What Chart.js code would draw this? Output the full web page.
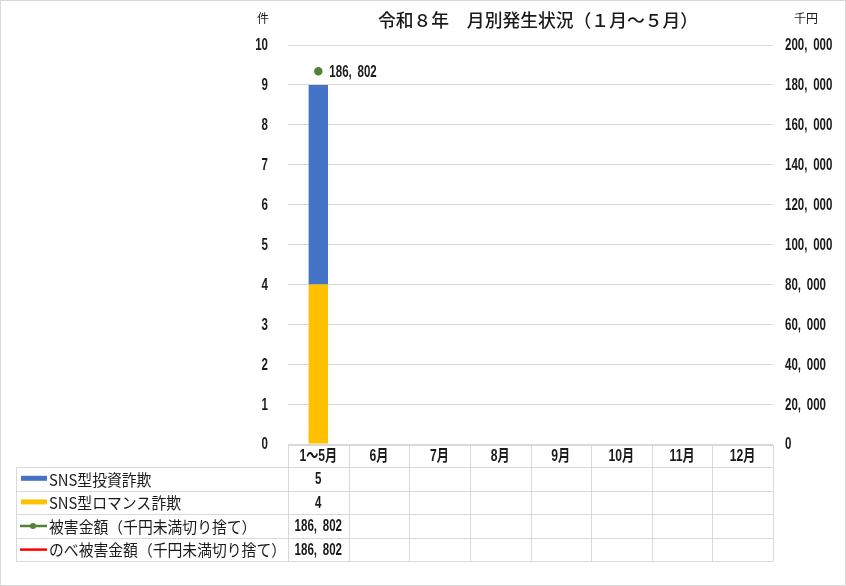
<!DOCTYPE html>
<html lang="ja">
<head>
<meta charset="utf-8">
<script src="https://cdn.jsdelivr.net/npm/chart.js@4.4.1/dist/chart.umd.min.js"></script>
<style>
    html, body { margin: 0; padding: 0; background: #fff; }
    #wrap { position: relative; width: 846px; height: 586px; }
</style>
</head>
<body>
<div id="wrap"><canvas id="monthlyChart" width="846" height="586"></canvas></div>
<script>
// 月別データ（1～5月のみ計上）
const months = ['1～5月', '6月', '7月', '8月', '9月', '10月', '11月', '12月'];
const investment = [5, null, null, null, null, null, null, null];
const romance = [4, null, null, null, null, null, null, null];
const damage = [186802, null, null, null, null, null, null, null];
const totalDamage = [186802, null, null, null, null, null, null, null];

const countMax = 10;
const amountMax = 200000;
const amountStep = 20000;

const NUM_FONT = "bold 16px 'Liberation Sans', 'Noto Sans CJK JP', sans-serif";
const JP_FONT = "'Noto Sans CJK JP', sans-serif";
const NARROW = 0.72;   // the original uses a condensed face
const COMMA_GAP = 8;   // its comma is also wide
const GRID = '#d9d9d9';
const TEXT = '#1a1a1a';

const fmt = v => (v === null || v === undefined) ? '' : v.toLocaleString('en-US');

// table rows: label, legend key type, colour, values
const tableRows = [
    { label: 'SNS型投資詐欺', key: 'bar', color: '#4472C4', values: investment },
    { label: 'SNS型ロマンス詐欺', key: 'bar', color: '#FFC000', values: romance },
    { label: '被害金額（千円未満切り捨て）', key: 'marker', color: '#548235', values: damage },
    { label: 'のべ被害金額（千円未満切り捨て）', key: 'line', color: '#FF0000', values: totalDamage }
];

// draw text squeezed horizontally, with extra room after each comma
const drawText = (ctx, text, x, y, align, font, sx, gap = 0) => {
    ctx.save();
    ctx.font = font;
    ctx.textAlign = 'left';
    ctx.textBaseline = 'middle';
    ctx.fillStyle = TEXT;
    ctx.translate(x, y);
    ctx.scale(sx, 1);
    const parts = text.split(',');
    const commaW = ctx.measureText(',').width + gap;
    const widths = parts.map(p => ctx.measureText(p).width);
    const total = widths.reduce((a, b) => a + b, 0) + commaW * (parts.length - 1);
    let cx = align === 'center' ? -total / 2 : align === 'right' ? -total : 0;
    parts.forEach((p, i) => {
        ctx.fillText(p, cx, 0);
        cx += widths[i];
        if (i < parts.length - 1) {
            ctx.fillText(',', cx, 0);
            cx += commaW;
        }
    });
    ctx.restore();
};

const tablePlugin = {
    id: 'tablePlugin',
    afterDraw(chart) {
        const { ctx, chartArea, scales } = chart;
        const colW = (chartArea.right - chartArea.left) / months.length;
        const tableLeft = 16;
        const top = chartArea.bottom + 1;
        const headerH = 22;
        const rowH = 23.6;
        const rowsTop = top + headerH;
        const bottom = rowsTop + rowH * tableRows.length;

        ctx.save();

        // outer frame
        ctx.strokeStyle = GRID;
        ctx.lineWidth = 1;
        ctx.strokeRect(0.5, 0.5, 845, 585);

        // title and unit labels
        drawText(ctx, '令和８年　月別発生状況（１月～５月）', 538, 20, 'center', '500 17.8px ' + JP_FONT, 1);
        drawText(ctx, '件', 263, 18, 'center', '12px ' + JP_FONT, 1);
        drawText(ctx, '千円', 806, 18, 'center', '12px ' + JP_FONT, 1);

        // axis tick labels from the library scales
        const yL = scales.y;
        yL.ticks.forEach(t => {
            drawText(ctx, String(t.value), 268, yL.getPixelForValue(t.value) + 1, 'right', NUM_FONT, NARROW);
        });
        const yR = scales.y1;
        yR.ticks.forEach(t => {
            drawText(ctx, fmt(t.value), 785, yR.getPixelForValue(t.value) + 1, 'left', NUM_FONT, NARROW, COMMA_GAP);
        });

        // value label next to the damage point
        const pt = chart.getDatasetMeta(2).data[0];
        if (pt) drawText(ctx, fmt(damage[0]), pt.x + 11, pt.y + 1, 'left', NUM_FONT, NARROW, COMMA_GAP);

        // table grid
        ctx.strokeStyle = GRID;
        ctx.lineWidth = 1;
        ctx.beginPath();
        const hLine = (x1, x2, y) => { ctx.moveTo(x1, Math.round(y) + 0.5); ctx.lineTo(x2, Math.round(y) + 0.5); };
        const vLine = (x, y1, y2) => { ctx.moveTo(Math.round(x) + 0.5, y1); ctx.lineTo(Math.round(x) + 0.5, y2); };
        hLine(chartArea.left, chartArea.right, top);
        for (let r = 0; r <= tableRows.length; r++) {
            hLine(tableLeft, chartArea.right, rowsTop + r * rowH);
        }
        vLine(tableLeft, rowsTop, bottom);
        for (let c = 0; c <= months.length; c++) {
            vLine(chartArea.left + c * colW, top, bottom);
        }
        ctx.stroke();

        // header
        months.forEach((m, i) => {
            drawText(ctx, m, chartArea.left + colW * (i + 0.5), top + headerH / 2 + 1, 'center', NUM_FONT, 0.76);
        });

        // squeeze the row labels so the longest one spans like the original
        const labelFont = '15.5px ' + JP_FONT;
        ctx.font = labelFont;
        const longest = Math.max(...tableRows.map(r => ctx.measureText(r.label).width));
        const labelScale = 237 / longest;

        tableRows.forEach((row, r) => {
            const cy = rowsTop + rowH * (r + 0.5);
            ctx.fillStyle = row.color;
            ctx.strokeStyle = row.color;
            if (row.key === 'bar') {
                ctx.fillRect(21, cy - 3, 26, 5);
            } else {
                ctx.lineWidth = 2.5;
                ctx.beginPath();
                ctx.moveTo(20, cy);
                ctx.lineTo(47, cy);
                ctx.stroke();
                if (row.key === 'marker') {
                    ctx.beginPath();
                    ctx.arc(33, cy, 3, 0, Math.PI * 2);
                    ctx.fill();
                }
            }
            drawText(ctx, row.label, 49, cy + 1, 'left', labelFont, labelScale);
            row.values.forEach((v, i) => {
                drawText(ctx, fmt(v), chartArea.left + colW * (i + 0.5), cy + 1, 'center', NUM_FONT, NARROW, COMMA_GAP);
            });
        });

        ctx.restore();
    }
};

new Chart(document.getElementById('monthlyChart'), {
    data: {
        labels: months,
        datasets: [
            {
                type: 'bar',
                label: 'SNS型ロマンス詐欺',
                data: romance,
                backgroundColor: '#FFC000',
                yAxisID: 'y',
                categoryPercentage: 1,
                barPercentage: 0.32,
                order: 2
            },
            {
                type: 'bar',
                label: 'SNS型投資詐欺',
                data: investment,
                backgroundColor: '#4472C4',
                yAxisID: 'y',
                categoryPercentage: 1,
                barPercentage: 0.32,
                order: 2
            },
            {
                type: 'line',
                label: '被害金額（千円未満切り捨て）',
                data: damage,
                borderColor: '#548235',
                backgroundColor: '#548235',
                pointRadius: 3,
                borderWidth: 2.5,
                yAxisID: 'y1',
                order: 1
            },
            {
                type: 'line',
                label: 'のべ被害金額（千円未満切り捨て）',
                data: totalDamage,
                borderColor: '#FF0000',
                backgroundColor: '#FF0000',
                pointRadius: 0,
                borderWidth: 2.5,
                yAxisID: 'y1',
                order: 1
            }
        ]
    },
    options: {
        responsive: false,
        animation: false,
        layout: { padding: { left: 0, right: 0, top: 45, bottom: 142 } },
        plugins: {
            legend: { display: false },
            tooltip: { enabled: false }
        },
        scales: {
            x: {
                display: false,
                stacked: true,
                offset: true
            },
            y: {
                position: 'left',
                stacked: true,
                min: 0,
                max: countMax,
                afterFit: s => { s.width = 288; },
                ticks: { stepSize: 1, display: false },
                grid: { color: GRID, drawTicks: false },
                border: { display: false }
            },
            y1: {
                position: 'right',
                stacked: false,
                min: 0,
                max: amountMax,
                afterFit: s => { s.width = 73; },
                ticks: { stepSize: amountStep, display: false },
                grid: { display: false, drawTicks: false },
                border: { display: false }
            }
        }
    },
    plugins: [tablePlugin]
});
</script>
</body>
</html>
